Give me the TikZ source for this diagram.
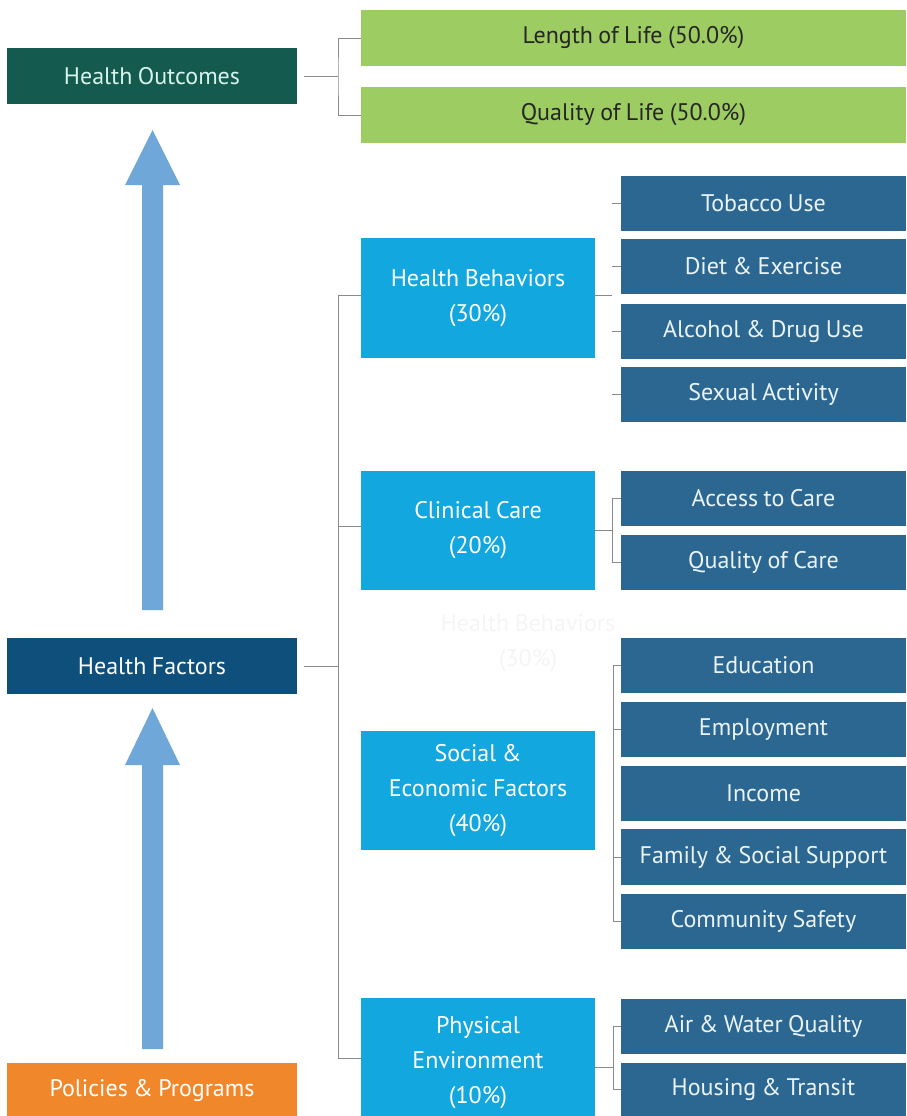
\documentclass[tikz,border=0pt]{standalone}
\usepackage{fontspec}
\setmainfont{PT Sans}[WordSpace=0.85]
\usetikzlibrary{calc}
\definecolor{hoc}{HTML}{145A4E}
\definecolor{hotext}{HTML}{D6F3EE}
\definecolor{greenc}{HTML}{9DCC62}
\definecolor{hfc}{HTML}{0E4F7B}
\definecolor{cyanc}{HTML}{12A7DF}
\definecolor{subc}{HTML}{2C6791}
\definecolor{subtext}{HTML}{EAF4F8}
\definecolor{arrowc}{HTML}{6FA7D9}
\definecolor{orangec}{HTML}{F0872B}
\definecolor{connc}{HTML}{8A8A8A}
\begin{document}
\begin{tikzpicture}[x=1pt,y=-1pt,
  box/.style={inner sep=0pt,outer sep=0pt,anchor=north west,align=center,
    font=\fontsize{24}{35}\selectfont},
  leftbox/.style={box,minimum width=290pt,minimum height=56pt},
  greenbox/.style={box,fill=greenc,text=black!85,minimum width=545pt,minimum height=56pt},
  catbox/.style={box,fill=cyanc,text=white,minimum width=234pt,minimum height=120pt},
  subbox/.style={box,fill=subc,text=subtext,minimum width=285pt,minimum height=55pt},
  conn/.style={draw=connc,line width=0.9pt},
  bigarrow/.style={fill=arrowc}]
\clip (0,0) rectangle (906,1116);
\fill[white] (0,0) rectangle (906,1116);

% left column
\node[leftbox,fill=hoc,text=hotext] (ho) at (7,48) {Health Outcomes};
\node[leftbox,fill=hfc,text=white] (hf) at (7,638) {Health Factors};
\node[leftbox,fill=orangec,text=white,minimum height=54pt] (pp) at (7,1063) {Policies \& Programs};

% arrows
\fill[bigarrow] (142,610) -- (142,185) -- (125,185) -- (152.5,130) -- (180,185) -- (163,185) -- (163,610) -- cycle;
\fill[bigarrow] (142,1049) -- (142,765) -- (125,765) -- (152.5,708) -- (180,765) -- (163,765) -- (163,1049) -- cycle;

% outcomes
\node[greenbox] (ll) at (361,10) {Length of Life (50.0\%)};
\node[greenbox] (ql) at (361,87) {Quality of Life (50.0\%)};

% categories
\node[catbox] (hb) at (361,238) {Health Behaviors\\(30\%)};
\node[catbox,minimum height=119pt] (cc) at (361,471) {Clinical Care\\(20\%)};
\node[catbox,minimum height=119pt] (se) at (361,731) {Social \&\\Economic Factors\\(40\%)};
\node[catbox,minimum height=130pt] (pe) at (361,998) {Physical\\Environment\\(10\%)};

% faint ghost text
\node[align=center,font=\fontsize{24}{35}\selectfont,text=black!4] (ghost) at (528,643) {Health Behaviors\\(30\%)};

% sub factors
\node[subbox] (tob) at (621,176) {Tobacco Use};
\node[subbox] (die) at (621,239) {Diet \& Exercise};
\node[subbox] (alc) at (621,304) {Alcohol \& Drug Use};
\node[subbox] (sex) at (621,367) {Sexual Activity};
\node[subbox] (acc) at (621,471) {Access to Care};
\node[subbox] (qoc) at (621,535) {Quality of Care};
\node[subbox] (edu) at (621,638) {Education};
\node[subbox] (emp) at (621,702) {Employment};
\node[subbox] (inc) at (621,766) {Income};
\node[subbox,minimum height=56pt] (fam) at (621,829) {Family \& Social Support};
\node[subbox] (com) at (621,894) {Community Safety};
\node[subbox] (air) at (621,999) {Air \& Water Quality};
\node[subbox,minimum height=53pt] (hou) at (621,1063) {Housing \& Transit};

% connectors: outcomes
\coordinate (j1) at ([xshift=41pt]ho.east);
\draw[conn] ([xshift=7pt]ho.east) -- (j1);
\draw[conn] (ll.west) -| (j1) |- (ql.west);

% connectors: factors
\coordinate (j2) at ([xshift=41pt]hf.east);
\draw[conn] ([xshift=7pt]hf.east) -- (j2);
\draw[conn] ([yshift=3pt]hb.west) -- ++(-23,0) |- ([yshift=5pt]pe.west);
\draw[conn] ([yshift=4pt]cc.west) -- ++(-23,0);

% health behaviors
\draw[conn] ([yshift=3pt]hb.east) -- ++(17,0);
\foreach \n in {tob,die,alc,sex} \draw[conn] (\n.west) -- ++(-9,0);

% clinical care
\draw[conn] (cc.east) -- ++(17,0);
\draw[conn] (acc.west) -- ++(-9,0) |- (qoc.west);

% social & economic
\draw[conn] (edu.west) -- ++(-8,0) |- (com.west);
\draw[conn] (emp.west) -- ++(-8,0);
\draw[conn] (fam.west) -- ++(-8,0);

% physical environment
\draw[conn] ([yshift=-4pt]pe.east) -- ++(18,0);
\draw[conn] (air.west) -- ++(-8,0) |- (hou.west);
\end{tikzpicture}
\end{document}
